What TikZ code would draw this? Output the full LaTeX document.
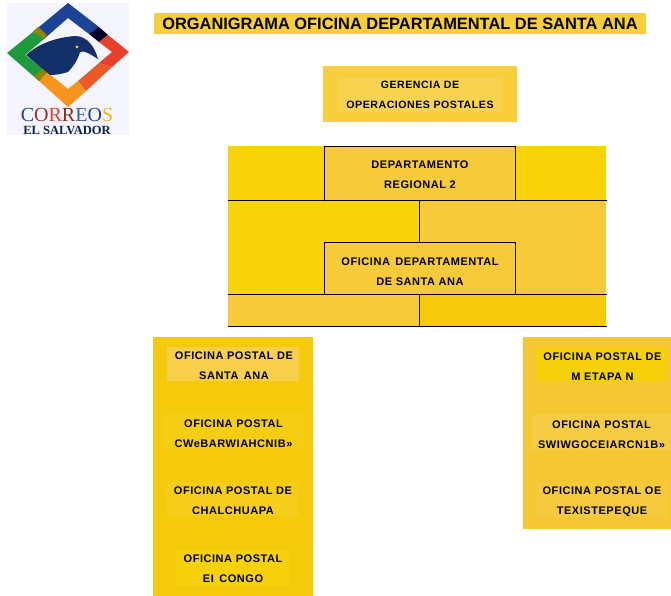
\documentclass[tikz,border=0pt]{standalone}
\usepackage{fontspec}
\setmainfont{Liberation Sans}
\newfontfamily\logofont{Liberation Serif}
\newfontfamily\boxfont[LetterSpace=5]{Liberation Sans Bold}
\usepackage{xcolor}
\definecolor{bandA}{HTML}{F9D30A}
\definecolor{bandB}{HTML}{F6CA38}
\definecolor{bandC}{HTML}{F4CA0A}
\definecolor{titleband}{HTML}{F8CF3A}
\definecolor{gerenciatag}{HTML}{F8D350}
\definecolor{santatag}{HTML}{F7CF4A}
\definecolor{cwetag}{HTML}{F5CD12}
\definecolor{chaltag}{HTML}{F5CD1A}
\definecolor{congotag}{HTML}{F6D10C}
\definecolor{colright}{HTML}{F5C733}
\definecolor{etapatag}{HTML}{F6D10A}
\definecolor{switag}{HTML}{F6CC44}
\definecolor{texistag}{HTML}{F6CA3C}
\definecolor{logoblue}{HTML}{1C4496}
\definecolor{logored}{HTML}{E8402C}
\definecolor{logogreen}{HTML}{1E9A3C}
\definecolor{logoorange}{HTML}{F7941E}

\begin{document}
\begin{tikzpicture}[x=1pt,y=-1pt,line width=1pt,draw=black]
	\tikzstyle{every node}=[rectangle,inner sep=0pt,text=black,align=center,font=\boxfont\fontsize{11}{20}\selectfont]
	\tikzstyle{conn} =[line width=1pt,draw=black]
	\useasboundingbox (0,0) rectangle (671,596);

	% logo
	\fill[white!96!blue] (7,3) rectangle (129,135);
	\fill[logoblue] (68,3) -- (99,27) -- (89,34) -- (68,18) -- (44,39) -- (33,32) -- cycle;
	\fill[black!85!blue] (99,27) -- (108,35) -- (99,42) -- (89,34) -- cycle;
	\fill[logored] (108,35) -- (129,52) -- (112,67) -- (99,63) -- (112,52) -- (99,42) -- cycle;
	\fill[logored!70!logoorange] (112,67) -- (86,91) -- (78,81) -- (99,63) -- cycle;
	\fill[logoorange] (86,91) -- (68,107) -- (39,81) -- (47,72) -- (68,89) -- (78,81) -- cycle;
	\fill[logogreen] (33,32) -- (44,39) -- (25,55) -- (47,72) -- (39,81) -- (7,53) -- cycle;
	\fill[olive] (33,32) -- (38,27) -- (47,35) -- (44,39) -- cycle;
	\fill[olive] (39,81) -- (34,76) -- (43,68) -- (47,72) -- cycle;
	\fill[logoblue!70!black] (26,55) .. controls (35,47) and (50,38) .. (75,36) .. controls (88,36) and (95,48) .. (98,59) .. controls (90,54) and (84,50) .. (80,52) .. controls (78,60) and (72,68) .. (68,72) .. controls (62,74) and (56,75) .. (50,75) -- cycle;
	\fill[yellow!90!orange] (77,47) circle (1.5);
	\node (CORREOS) at (67,114.5) {\logofont\mdseries\fontsize{20}{20}\selectfont \textcolor{logoblue}{C}\textcolor{logored!70!black}{O}\textcolor{logored}{R}\textcolor{logored!60!black}{R}\textcolor{logoblue!60!gray}{E}\textcolor{logoblue}{O}\textcolor{logoorange!70!yellow}{S}};
	\node (SALVADOR) at (67,130.5) {\logofont\bfseries\fontsize{12.5}{12.5}\selectfont\textcolor{logoblue!50!black}{EL SALVADOR}};

	% title
	\fill[titleband] (154,13) rectangle (646,34);
	\node (TITLE) [font=\fontsize{16.4}{20}\selectfont] at (400,23.5) {\textbf{ORGANIGRAMA OFICINA DEPARTAMENTAL DE SANTA ANA}};

	% bands
	\fill[bandA] (228,146) rectangle (606,200);
	\fill[bandA] (228,200) rectangle (419,294);
	\fill[bandB] (419,200) rectangle (606,294);
	\fill[bandB] (228,294) rectangle (419,326);
	\fill[bandC] (419,294) rectangle (606,326);

	\fill[titleband] (323,66) rectangle (517,122);
	\fill[gerenciatag] (338,77) rectangle (502,112);
	\node (GERENCIA) [font=\boxfont\fontsize{10.6}{20}\selectfont] at (420,94.5) {GERENCIA DE\\OPERACIONES POSTALES};

	\node (REGIONAL) [fill=bandB,draw=black,minimum width=191.5,minimum height=54] at (420,173.5) {};
	\node (REGIONALT) at (420,175) {DEPARTAMENTO\\REGIONAL 2};
	\node (DEPTO) [fill=bandB,draw=black,minimum width=191.5,minimum height=52] at (420,268.5) {};
	\node (DEPTOT) at (420,271.5) {OFICINA\, DEPARTAMENTAL\\DE SANTA ANA};

	% lines
	\coordinate (L1L) at (228,200.5);
	\coordinate (L1R) at (607,200.5);
	\coordinate (L1M) at (419.5,200.5);
	\coordinate (L2L) at (228,294.5);
	\coordinate (L2R) at (607,294.5);
	\coordinate (L2M) at (419.5,294.5);
	\coordinate (L3L) at (228,326.5);
	\coordinate (L3R) at (607,326.5);
	\coordinate (L3M) at (419.5,326.5);
	\coordinate (D1) at (419.5,242);
	\draw[conn] (L1L) to (L1R);
	\draw[conn] (L1M) to (D1);
	\draw[conn] (L2L) to (L2R);
	\draw[conn] (L2M) to (L3M);
	\draw[conn] (L3L) to (L3R);

	% left column
	\fill[bandC] (153,337) rectangle (313,596);
	\fill[santatag] (167,347) rectangle (299,381);
	\fill[cwetag] (163,414) rectangle (303,448);
	\fill[chaltag] (167,482) rectangle (299,516);
	\fill[congotag] (176,551) rectangle (290,585);
	\node (SANTA) at (234,366) {OFICINA POSTAL DE\\SANTA\, ANA};
	\node (CWE) at (233.5,434) {OFICINA POSTAL\\CWeBARWIAHCNIB»};
	\node (CHALCHUAPA) at (233,501) {OFICINA POSTAL DE\\CHALCHUAPA};
	\node (CONGO) at (233,569) {OFICINA POSTAL\\EI\, CONGO};

	% right column
	\fill[colright] (523,337) rectangle (671,529);
	\fill[etapatag] (536,348) rectangle (667,381);
	\fill[switag] (532,415) rectangle (671,450);
	\fill[texistag] (536,483) rectangle (667,518);
	\node (ETAPA) at (602.5,366.5) {OFICINA POSTAL DE\\M ETAPA N};
	\node (SWI) at (601.5,434.5) {OFICINA POSTAL\\SWIWGOCEIARCN1B»};
	\node (TEXIS) at (602,501.5) {OFICINA POSTAL OE\\TEXISTEPEQUE};
\end{tikzpicture}
\end{document}
